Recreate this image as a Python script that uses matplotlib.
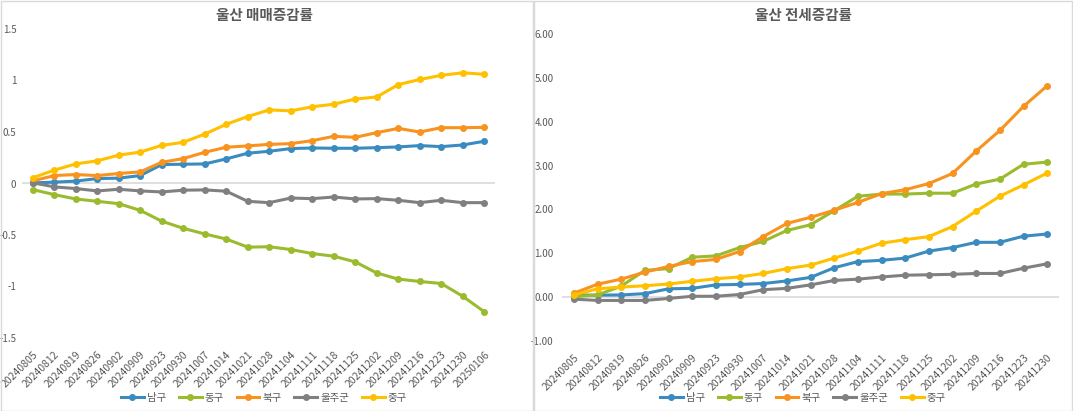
import matplotlib
matplotlib.use("Agg")
import matplotlib.pyplot as plt
from matplotlib.patches import Rectangle

plt.rcParams['font.family'] = ['Noto Sans CJK KR', 'DejaVu Sans']

# 매매증감률 (weekly, 20240916 missing)
sale_dates = ['20240805', '20240812', '20240819', '20240826', '20240902', '20240909',
              '20240923', '20240930', '20241007', '20241014', '20241021', '20241028',
              '20241104', '20241111', '20241118', '20241125', '20241202', '20241209',
              '20241216', '20241223', '20241230', '20250106']
sale_nam = [0.006, 0.013, 0.023, 0.048, 0.052, 0.077, 0.184, 0.187, 0.19, 0.239, 0.294,
            0.313, 0.339, 0.345, 0.342, 0.342, 0.348, 0.355, 0.368, 0.358, 0.374, 0.41]
sale_dong = [-0.059, -0.108, -0.15, -0.173, -0.196, -0.261, -0.366, -0.435, -0.49, -0.539,
             -0.618, -0.614, -0.641, -0.68, -0.706, -0.761, -0.869, -0.928, -0.951, -0.971,
             -1.095, -1.245]
sale_buk = [0.025, 0.077, 0.087, 0.077, 0.097, 0.113, 0.206, 0.242, 0.303, 0.352, 0.365,
            0.38, 0.387, 0.416, 0.458, 0.448, 0.494, 0.535, 0.5, 0.542, 0.542, 0.545]
sale_ulju = [0.007, -0.033, -0.049, -0.072, -0.056, -0.072, -0.082, -0.065, -0.062, -0.075,
             -0.173, -0.186, -0.141, -0.147, -0.131, -0.15, -0.147, -0.163, -0.186, -0.163,
             -0.186, -0.186]
sale_jung = [0.055, 0.13, 0.19, 0.22, 0.275, 0.305, 0.37, 0.40, 0.48, 0.575, 0.65, 0.715,
             0.705, 0.745, 0.77, 0.82, 0.84, 0.96, 1.01, 1.05, 1.075, 1.06]

# 전세증감률
rent_dates = sale_dates[:-1]
rent_nam = [0.05, 0.045, 0.05, 0.08, 0.19, 0.20, 0.28, 0.29, 0.31, 0.37, 0.45, 0.67, 0.81,
            0.84, 0.89, 1.05, 1.13, 1.25, 1.25, 1.39, 1.44]
rent_dong = [0.01, 0.05, 0.25, 0.61, 0.65, 0.91, 0.94, 1.13, 1.27, 1.52, 1.65, 1.97, 2.30,
             2.35, 2.35, 2.37, 2.37, 2.58, 2.69, 3.03, 3.08]
rent_buk = [0.09, 0.295, 0.41, 0.57, 0.70, 0.81, 0.86, 1.04, 1.38, 1.68, 1.82, 1.98, 2.16,
            2.36, 2.45, 2.59, 2.82, 3.33, 3.80, 4.35, 4.82]
rent_ulju = [-0.045, -0.075, -0.075, -0.075, -0.03, 0.02, 0.02, 0.06, 0.17, 0.20, 0.28, 0.38,
             0.41, 0.46, 0.50, 0.51, 0.52, 0.54, 0.54, 0.66, 0.76]
rent_jung = [0.05, 0.19, 0.23, 0.26, 0.30, 0.36, 0.42, 0.46, 0.54, 0.65, 0.73, 0.89, 1.05,
             1.23, 1.31, 1.38, 1.61, 1.96, 2.30, 2.56, 2.83]

names = ['남구', '동구', '북구', '울주군', '중구']
colors = ['#3a8bbf', '#9bbb2e', '#f7931e', '#808080', '#ffc000']
txt = '#595959'

fig = plt.figure(figsize=(10.73, 4.11), dpi=100)
fig.patches.append(Rectangle((0.5 / 1073, 0.5 / 411), 532 / 1073, 409 / 411, transform=fig.transFigure,
                             fill=False, edgecolor='#d9d9d9', lw=1))
fig.patches.append(Rectangle((534 / 1073, 0.5 / 411), 538 / 1073, 409 / 411, transform=fig.transFigure,
                             fill=False, edgecolor='#d9d9d9', lw=1))

ax1 = fig.add_axes([22 / 1073, 1 - 338 / 411, 473 / 1073, 309 / 411])
ax2 = fig.add_axes([562 / 1073, 1 - 341 / 411, 497 / 1073, 307 / 411])


def draw(ax, dates, series, ylim, yticks, ylabels, title, cx, ypad):
    x = list(range(len(dates)))
    ax.axhline(0, color='#d9d9d9', lw=1.2, zorder=1)
    for s, n, c in zip(series, names, colors):
        ax.plot(x, s, color=c, lw=2.2, marker='o', ms=4, label=n, zorder=3)
    ax.set_xlim(-0.5, len(dates) - 0.5)
    ax.set_ylim(*ylim)
    ax.set_yticks(yticks)
    ax.set_yticklabels(ylabels)
    ax.set_xticks(x)
    ax.set_xticklabels(dates, rotation=45, ha='right', rotation_mode='anchor')
    ax.tick_params(axis='both', length=0, labelsize=7.5, labelcolor=txt)
    ax.tick_params(axis='x', pad=8)
    ax.tick_params(axis='y', pad=ypad, labelsize=7)
    for sp in ax.spines.values():
        sp.set_visible(False)
    ax.set_facecolor('none')
    fig.text(cx, 1 - 15 / 411, title, ha='center', va='center', fontsize=10.5,
             fontweight='bold', color=txt)
    ax.legend(loc='center', bbox_to_anchor=(cx, 1 - 398 / 411), bbox_transform=fig.transFigure,
              ncol=5, frameon=False, fontsize=7.5, handlelength=2.2, handletextpad=0.3,
              columnspacing=1.2, labelcolor=txt)


draw(ax1, sale_dates, [sale_nam, sale_dong, sale_buk, sale_ulju, sale_jung],
     (-1.5, 1.5), [-1.5, -1, -0.5, 0, 0.5, 1, 1.5],
     ['-1.5', '-1', '-0.5', '0', '0.5', '1', '1.5'], '울산 매매증감률', 264 / 1073, 4)
draw(ax2, rent_dates, [rent_nam, rent_dong, rent_buk, rent_ulju, rent_jung],
     (-1, 6), list(range(-1, 7)), ['%.2f' % v for v in range(-1, 7)],
     '울산 전세증감률', 803 / 1073, 6)

fig.savefig('out.png', dpi=100)
